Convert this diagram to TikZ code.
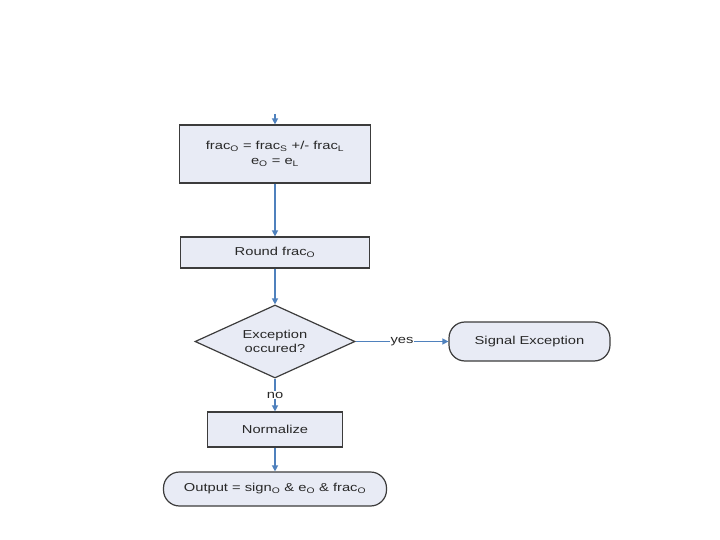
\documentclass[tikz,border=0pt]{standalone}
\usepackage{fontspec}
\setmainfont{Liberation Sans}
\newfontfamily\diagfont[FakeStretch=1.28]{Liberation Sans}
\usetikzlibrary{arrows.meta,shapes.geometric}
\definecolor{boxfill}{RGB}{232,235,245}
\definecolor{boxline}{RGB}{60,60,60}
\definecolor{arrowblue}{RGB}{79,129,189}
\definecolor{txt}{RGB}{40,40,40}
\tikzset{
  base/.style={draw=boxline, fill=boxfill, line width=1.2pt, inner sep=0pt,
    text=txt, font=\diagfont\fontsize{11.5}{14.5}\selectfont, align=center},
  procbox/.style={base, rectangle},
  termbox/.style={base, rectangle, rounded corners=16pt},
  decbox/.style={base, diamond, aspect=2.19},
  flow/.style={draw=arrowblue, line width=1.3pt, -{Triangle[width=6pt,length=6pt]}},
  flowlabel/.style={fill=white, inner sep=1pt, text=txt, font=\diagfont\fontsize{11.5}{14}\selectfont}
}
\begin{document}
\begin{tikzpicture}[x=1pt,y=-1pt]
\useasboundingbox[fill=white] (0,0) rectangle (720,540);
\coordinate (start) at (275,114);
\node[procbox, minimum width=191pt, minimum height=58pt] (calc) at (275,154)
  {frac\textsubscript{O} = frac\textsubscript{S} +/- frac\textsubscript{L}\\ e\textsubscript{O} = e\textsubscript{L}};
\node[procbox, minimum width=189pt, minimum height=31pt] (round) at (275,252.5)
  {Round frac\textsubscript{O}};
\node[decbox, minimum width=160pt, minimum height=73pt] (exc) at (275,341.5)
  {Exception\\occured?};
\node[termbox, minimum width=161pt, minimum height=39pt] (sig) at (529.5,341.5)
  {Signal Exception};
\node[procbox, minimum width=135pt, minimum height=35pt] (norm) at (275,429.5)
  {Normalize};
\node[termbox, minimum width=223pt, minimum height=34pt] (out) at (275,489)
  {Output = sign\textsubscript{O} \& e\textsubscript{O} \& frac\textsubscript{O}};
\draw[flow] (start) -- (calc.north);
\draw[flow] (calc.south) -- (round.north);
\draw[flow] (round.south) -- (exc.north);
\draw[flow] (exc.east) -- node[flowlabel] (yes) {yes} (sig.west);
\draw[flow] (exc.south) -- node[flowlabel] (no) {no} (norm.north);
\draw[flow] (norm.south) -- (out.north);
\end{tikzpicture}
\end{document}
